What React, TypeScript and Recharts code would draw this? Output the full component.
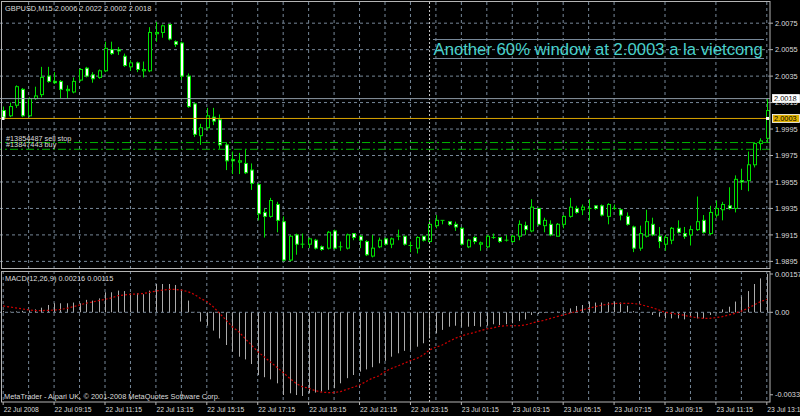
import React from "react";
import { ComposedChart, Bar, Line, XAxis, YAxis, ReferenceLine, CartesianGrid } from "recharts";

// ---------- data (GBPUSD M15, 22 Jul 07:15 .. 23 Jul 13:15) ----------
const OPEN = [
  2.0009, 2.0005, 2.0013, 2.0025, 2.0005, 2.0018, 2.0021, 2.0035, 2.0031, 2.0031,
  2.0024, 2.0023, 2.0032, 2.0041, 2.0036, 2.0034, 2.0039, 2.0055, 2.0055, 2.0050,
  2.0042, 2.0045, 2.0039, 2.0039, 2.0067, 2.0068, 2.0074, 2.0061, 2.0060, 2.0035,
  2.0014, 1.9990, 1.9996, 2.0004, 2.0002, 1.9983, 1.9972, 1.9970, 1.9969, 1.9964,
  1.9953, 1.9932, 1.9929, 1.9938, 1.9925, 1.9896, 1.9915, 1.9908, 1.9908, 1.9911,
  1.9906, 1.9905, 1.9918, 1.9906, 1.9905, 1.9916, 1.9914, 1.9910, 1.9899, 1.9906,
  1.9912, 1.9908, 1.9914, 1.9914, 1.9907, 1.9905, 1.9914, 1.9910, 1.9922, 1.9926,
  1.9925, 1.9923, 1.9920, 1.9906, 1.9913, 1.9908, 1.9906, 1.9913, 1.9913, 1.9911,
  1.9910, 1.9914, 1.9922, 1.9918, 1.9935, 1.9922, 1.9923, 1.9914, 1.9923, 1.9929,
  1.9935, 1.9934, 1.9935, 1.9937, 1.9937, 1.9929, 1.9935, 1.9934, 1.9929, 1.9921,
  1.9905, 1.9914, 1.9923, 1.9914, 1.9908, 1.9911, 1.9920, 1.9916, 1.9915, 1.9919,
  1.9926, 1.9916, 1.9930, 1.9934, 1.9937, 1.9935, 1.9956, 1.9956, 1.9968, 1.9984,
  1.9988,
];
const HIGH = [
  2.0012, 2.0015, 2.0028, 2.0026, 2.0019, 2.0027, 2.0042, 2.0042, 2.0038, 2.0032,
  2.0028, 2.0034, 2.0041, 2.0042, 2.0038, 2.0040, 2.0061, 2.0061, 2.0057, 2.0052,
  2.0047, 2.0046, 2.0046, 2.0072, 2.0076, 2.0074, 2.0074, 2.0062, 2.0061, 2.0037,
  2.0015, 1.9999, 2.0011, 2.0011, 2.0006, 1.9985, 1.9978, 1.9977, 1.9980, 1.9969,
  1.9954, 1.9935, 1.9943, 1.9940, 1.9929, 1.9915, 1.9916, 1.9916, 1.9913, 1.9912,
  1.9907, 1.9918, 1.9919, 1.9910, 1.9916, 1.9916, 1.9915, 1.9911, 1.9915, 1.9913,
  1.9913, 1.9913, 1.9919, 1.9914, 1.9910, 1.9914, 1.9914, 1.9926, 1.9930, 1.9926,
  1.9925, 1.9925, 1.9921, 1.9912, 1.9914, 1.9910, 1.9915, 1.9916, 1.9913, 1.9915,
  1.9915, 1.9926, 1.9925, 1.9942, 1.9935, 1.9928, 1.9926, 1.9924, 1.9930, 1.9943,
  1.9937, 1.9938, 1.9942, 1.9937, 1.9938, 1.9939, 1.9938, 1.9935, 1.9932, 1.9922,
  1.9922, 1.9934, 1.9928, 1.9921, 1.9915, 1.9921, 1.9926, 1.9921, 1.9922, 1.9944,
  1.9930, 1.9937, 1.9941, 1.9940, 1.9951, 1.9960, 1.9965, 1.9978, 1.9985, 1.9988,
  2.0018,
];
const LOW = [
  2.0002, 2.0004, 2.0011, 2.0004, 2.0004, 2.0017, 2.0019, 2.0030, 2.0029, 2.0018,
  2.0018, 2.0022, 2.0031, 2.0034, 2.0030, 2.0033, 2.0038, 2.0051, 2.0051, 2.0042,
  2.0039, 2.0038, 2.0034, 2.0038, 2.0061, 2.0064, 2.0062, 2.0057, 2.0032, 2.0011,
  1.9989, 1.9983, 1.9994, 1.9998, 1.9980, 1.9964, 1.9961, 1.9961, 1.9961, 1.9949,
  1.9926, 1.9913, 1.9928, 1.9917, 1.9895, 1.9895, 1.9900, 1.9905, 1.9905, 1.9904,
  1.9903, 1.9904, 1.9904, 1.9903, 1.9904, 1.9911, 1.9905, 1.9899, 1.9898, 1.9905,
  1.9907, 1.9905, 1.9911, 1.9907, 1.9902, 1.9901, 1.9910, 1.9909, 1.9920, 1.9923,
  1.9922, 1.9918, 1.9907, 1.9905, 1.9908, 1.9903, 1.9905, 1.9912, 1.9909, 1.9910,
  1.9909, 1.9911, 1.9915, 1.9917, 1.9922, 1.9917, 1.9914, 1.9914, 1.9920, 1.9928,
  1.9931, 1.9930, 1.9926, 1.9934, 1.9929, 1.9923, 1.9934, 1.9926, 1.9922, 1.9902,
  1.9903, 1.9913, 1.9914, 1.9905, 1.9903, 1.9908, 1.9916, 1.9912, 1.9907, 1.9918,
  1.9916, 1.9915, 1.9928, 1.9926, 1.9934, 1.9932, 1.9949, 1.9948, 1.9966, 1.9979,
  1.9985,
];
const CLOSE = [
  2.0004, 2.0012, 2.0027, 2.0005, 2.0018, 2.0020, 2.0034, 2.0031, 2.0030, 2.0025,
  2.0025, 2.0031, 2.0040, 2.0035, 2.0033, 2.0039, 2.0056, 2.0052, 2.0054, 2.0043,
  2.0045, 2.0040, 2.0040, 2.0068, 2.0068, 2.0073, 2.0063, 2.0059, 2.0035, 2.0012,
  1.9991, 1.9996, 2.0005, 2.0001, 1.9983, 1.9971, 1.9971, 1.9971, 1.9962, 1.9954,
  1.9931, 1.9929, 1.9941, 1.9926, 1.9896, 1.9914, 1.9908, 1.9908, 1.9912, 1.9905,
  1.9904, 1.9917, 1.9905, 1.9906, 1.9915, 1.9913, 1.9911, 1.9900, 1.9905, 1.9911,
  1.9908, 1.9912, 1.9914, 1.9908, 1.9907, 1.9913, 1.9911, 1.9923, 1.9926, 1.9926,
  1.9923, 1.9921, 1.9908, 1.9911, 1.9910, 1.9909, 1.9914, 1.9913, 1.9910, 1.9911,
  1.9914, 1.9923, 1.9919, 1.9936, 1.9923, 1.9926, 1.9915, 1.9923, 1.9929, 1.9936,
  1.9932, 1.9936, 1.9935, 1.9935, 1.9930, 1.9938, 1.9935, 1.9930, 1.9923, 1.9905,
  1.9916, 1.9925, 1.9915, 1.9910, 1.9913, 1.9920, 1.9917, 1.9914, 1.9919, 1.9925,
  1.9917, 1.9932, 1.9935, 1.9938, 1.9935, 1.9957, 1.9955, 1.9968, 1.9984, 1.9986,
  2.0009,
];
// MACD(12,26,9) main (histogram) and signal, in pips (1 pip = 0.0001)
const PIP = 0.0001;
const MACD_MAIN = [
  0.5, 0.3, 0.4, 0.6, 0.8, 1.2, 1.9, 3.0, 3.7, 3.7,
  3.7, 4.0, 3.7, 5.1, 4.8, 5.7, 8.2, 8.2, 8.9, 8.7,
  7.8, 7.8, 7.4, 8.9, 11.6, 11.6, 11.6, 11.2, 9.2, 4.8,
  0.2, -3.8, -5.5, -7.5, -10.7, -13.4, -16.1, -18.2, -19.3, -21.2,
  -25.7, -26.6, -27.5, -29.1, -33.9, -33.2, -33.9, -34.3, -33.2, -32.9,
  -32.5, -31.8, -31.1, -29.1, -27.0, -25.7, -24.3, -23.4, -22.5, -20.9,
  -19.9, -18.2, -16.8, -15.8, -15.4, -14.1, -12.7, -10.7, -8.6, -7.2,
  -5.9, -5.5, -5.9, -5.9, -5.6, -5.9, -5.5, -4.9, -5.2, -4.9,
  -4.5, -3.6, -2.9, -1.1, -0.7, -0.3, 0.1, 0.3, 0.7, 1.6,
  2.6, 3.0, 4.4, 4.0, 4.0, 4.1, 4.4, 4.0, 2.7, 0.5,
  0.1, -0.1, -1.1, -1.8, -2.5, -2.5, -2.5, -2.9, -2.0, -2.5,
  -2.5, -1.1, -0.4, 1.2, 2.3, 4.4, 6.4, 8.7, 11.6, 13.9,
  15.7,
];
const MACD_SIGNAL = [
  2.6, 2.2, 1.8, 1.4, 1.0, 0.7, 0.7, 0.8, 0.9, 1.2,
  1.6, 2.3, 3.0, 3.7, 4.2, 4.8, 5.3, 5.9, 6.8, 7.1,
  7.4, 7.5, 7.7, 8.2, 8.7, 9.1, 9.4, 9.4, 9.1, 8.5,
  7.4, 5.7, 4.4, 2.3, -0.4, -3.1, -5.9, -7.9, -10.7, -13.4,
  -16.1, -18.2, -20.4, -22.5, -24.7, -27.0, -29.1, -30.5, -31.1, -32.1,
  -32.7, -32.9, -32.9, -32.5, -31.6, -30.7, -29.8, -28.4, -27.0, -26.1,
  -24.3, -23.0, -22.0, -20.9, -19.8, -18.9, -17.5, -15.4, -14.3, -13.4,
  -12.0, -10.7, -9.7, -8.9, -8.3, -7.5, -6.8, -6.4, -5.7, -5.5,
  -5.5, -5.5, -5.2, -4.5, -3.8, -3.3, -2.5, -1.8, -1.1, -0.4,
  0.3, 1.0, 1.6, 2.3, 2.9, 3.3, 3.6, 3.7, 3.7, 3.6,
  3.3, 2.6, 1.9, 1.0, 0.0, -0.4, -0.8, -1.2, -1.8, -2.2,
  -2.5, -2.5, -2.2, -1.8, -1.1, -0.4, 0.5, 1.6, 3.0, 4.4,
  5.3,
];
const TIME_TICKS = [
  "22 Jul 2008", "22 Jul 09:15", "22 Jul 11:15", "22 Jul 13:15", "22 Jul 15:15",
  "22 Jul 17:15", "22 Jul 19:15", "22 Jul 21:15", "22 Jul 23:15", "23 Jul 01:15",
  "23 Jul 03:15", "23 Jul 05:15", "23 Jul 07:15", "23 Jul 09:15", "23 Jul 11:15",
  "23 Jul 13:15",
];
const PRICE_TICKS = [2.0075, 2.0055, 2.0035, 2.0015, 1.9995, 1.9975, 1.9955, 1.9935, 1.9915, 1.9895];
const MACD_TICKS = [0.00157, 0, -0.00338];
const BID = 2.0018;
const HLINE = 2.0003;
const SELL_STOP = 1.99848;
const BUY_PRICE = 1.99797;
const DAY_SEPARATOR_BAR = 67;

// ---------- styles ----------
const FONT = "'Liberation Sans', Arial, sans-serif";
const GREEN = "#00e000";
const GRID = "#778899";
const FRAME = "#b4b4b4";
const TEXT = "#dcdcdc";

const rows = OPEN.map((o, i) => ({
  i,
  o,
  h: HIGH[i],
  l: LOW[i],
  c: CLOSE[i],
  range: [LOW[i], HIGH[i]],
  macd: MACD_MAIN[i] * PIP,
  signal: MACD_SIGNAL[i] * PIP,
}));
const GRID_BARS = rows.map((r) => r.i).filter((i) => i % 4 === 0);
const LABEL_BARS = rows.map((r) => r.i).filter((i) => i % 8 === 0);

const Candle = (props: any) => {
  const { x, y, width, height, payload } = props;
  if (x == null || y == null || !payload) return null;
  const { o, h, l, c } = payload;
  const top = Math.min(y, y + height);
  const hh = Math.abs(height);
  const k = h - l > 0 ? hh / (h - l) : 0;
  const py = (v: number) => top + (h - v) * k;
  const cx = Math.round(x + width / 2) + 0.5;
  const yo = py(o);
  const yc = py(c);
  const bt = Math.min(yo, yc);
  const bb = Math.max(yo, yc);
  const bull = c > o;
  return (
    <g>
      <line x1={cx} x2={cx} y1={top} y2={top + hh} stroke={GREEN} strokeWidth={1} />
      {Math.abs(o - c) < 1e-9 ? (
        <line x1={cx - 2} x2={cx + 2} y1={yo} y2={yo} stroke={GREEN} strokeWidth={1} />
      ) : (
        <rect x={cx - 1} y={bt} width={3} height={Math.max(bb - bt, 1)} fill={bull ? "#000000" : "#ffffff"} stroke={GREEN} strokeWidth={1} />
      )}
    </g>
  );
};

const HistBar = (props: any) => {
  const { x, y, width, height } = props;
  if (x == null || y == null) return null;
  const cx = Math.round(x + width / 2) + 0.5;
  const y1 = Math.min(y, y + height);
  const y2 = Math.max(y, y + height);
  return <line x1={cx} x2={cx} y1={y1} y2={y2} stroke="#acacac" strokeWidth={1} />;
};

const PriceTag = (props: any) => {
  const { viewBox, text, bg, markers } = props;
  if (!viewBox) return null;
  const { x, y, width } = viewBox;
  const right = x + width;
  return (
    <g>
      {markers ? (
        <g>
          <rect x={x + 1.5} y={y - 1.5} width={3} height={3} fill="#ffffff" />
          <rect x={right - 4} y={y - 1.5} width={3} height={3} fill="#ffffff" />
        </g>
      ) : null}
      <rect x={right + 2.5} y={y - 4} width={27} height={8} fill={bg} stroke="#ffffff" strokeWidth={0.8} />
      <text x={right + 4} y={y + 2.7} fontSize={7.4} fill="#000000" fontFamily={FONT}>{text}</text>
    </g>
  );
};

const OrderLabel = (props: any) => {
  const { viewBox, text } = props;
  if (!viewBox) return null;
  return (
    <text x={viewBox.x + 6} y={viewBox.y - 2} fontSize={7.3} fill={TEXT} fontFamily={FONT}>{text}</text>
  );
};

const TimeTick = (props: any) => {
  const { x, y, payload } = props;
  const label = TIME_TICKS[Math.round(payload.value / 8)];
  return (
    <g>
      <line x1={x} x2={x} y1={y} y2={y + 3} stroke={FRAME} />
      <text x={x + 0.5} y={y + 9.6} fontSize={6.8} fill={TEXT} fontFamily={FONT}>{label}</text>
    </g>
  );
};

export default function App() {
  return (
    <div style={{ position: "absolute", left: 0, top: 0, width: 800, height: 416, background: "#000000", overflow: "hidden" }}>
      {/* main price window */}
      <div style={{ position: "absolute", left: 0, top: 0 }}>
        <ComposedChart width={800} height={270} data={rows} margin={{ top: 2, right: 0, bottom: 2, left: 0 }}>
          <CartesianGrid stroke={GRID} strokeDasharray="3 3" horizontalValues={PRICE_TICKS} verticalValues={GRID_BARS} />
          <XAxis dataKey="i" type="category" hide />
          <YAxis
            orientation="right"
            width={30}
            type="number"
            domain={[1.989, 2.0091]}
            allowDataOverflow
            ticks={PRICE_TICKS}
            interval={0}
            axisLine={false}
            tickLine={{ stroke: FRAME }}
            tickSize={3}
            tickMargin={2}
            tickFormatter={(v: number) => v.toFixed(4)}
            tick={{ fill: TEXT, fontSize: 7.4, fontFamily: FONT }}
          />
          <ReferenceLine x={DAY_SEPARATOR_BAR} stroke="#c8c8c8" strokeDasharray="2 2" />
          <Bar dataKey="range" shape={Candle} isAnimationActive={false} />
          <ReferenceLine y={SELL_STOP} stroke="#00b400" strokeDasharray="8 3 2 3" label={<OrderLabel text="#13854487 sell stop" />} />
          <ReferenceLine y={BUY_PRICE} stroke="#00b400" strokeDasharray="8 3 2 3" label={<OrderLabel text="#13847443 buy" />} />
          <ReferenceLine y={BID} stroke="#8c98a4" label={<PriceTag text={BID.toFixed(4)} bg="#ffffff" />} />
          <ReferenceLine y={HLINE} stroke="#d8a400" label={<PriceTag text={HLINE.toFixed(4)} bg="#e0b000" markers />} />
        </ComposedChart>
      </div>

      {/* MACD window */}
      <div style={{ position: "absolute", left: 0, top: 270 }}>
        <ComposedChart width={800} height={146} data={rows} margin={{ top: 1, right: 0, bottom: 0, left: 0 }}>
          <CartesianGrid stroke={GRID} strokeDasharray="3 3" horizontal={false} verticalValues={GRID_BARS} />
          <XAxis
            dataKey="i"
            type="category"
            height={14}
            ticks={LABEL_BARS}
            interval={0}
            axisLine={false}
            tickLine={false}
            tickSize={0}
            tickMargin={0}
            tick={<TimeTick />}
          />
          <YAxis
            orientation="right"
            width={30}
            type="number"
            domain={[-0.003676, 0.001693]}
            allowDataOverflow
            ticks={MACD_TICKS}
            interval={0}
            axisLine={false}
            tickLine={{ stroke: FRAME }}
            tickSize={3}
            tickMargin={2}
            tickFormatter={(v: number) => (v === 0 ? "0.00" : v.toFixed(5))}
            tick={{ fill: TEXT, fontSize: 7.4, fontFamily: FONT }}
          />
          <ReferenceLine y={0} stroke={GRID} strokeDasharray="3 3" />
          <ReferenceLine x={DAY_SEPARATOR_BAR} stroke="#c8c8c8" strokeDasharray="2 2" />
          <Bar dataKey="macd" fill="#acacac" shape={HistBar} isAnimationActive={false} />
          <Line dataKey="signal" type="linear" stroke="#d00000" strokeWidth={1.2} strokeDasharray="2 2" dot={false} isAnimationActive={false} />
        </ComposedChart>
      </div>

      {/* frames and window texts */}
      <svg width={800} height={416} style={{ position: "absolute", left: 0, top: 0, pointerEvents: "none" }}>
        <rect x={1.5} y={1.5} width={768.5} height={267} fill="none" stroke={FRAME} />
        <rect x={1.5} y={271.5} width={768.5} height={130.5} fill="none" stroke={FRAME} />
        <text x={5} y={10.5} fontSize={7.4} fill={TEXT} fontFamily={FONT}>GBPUSD,M15  2.0006 2.0022 2.0002 2.0018</text>
        <line x1={433} x2={764} y1={39.5} y2={39.5} stroke={GRID} />
        <line x1={433} x2={764} y1={58.5} y2={58.5} stroke={GRID} />
        <text x={433.5} y={54.5} fontSize={16.7} fill="#48d1cc" fontFamily={FONT}>Another 60% window at 2.0003 a la vietcong</text>
        <text x={5} y={280.5} fontSize={7.4} fill={TEXT} fontFamily={FONT}>MACD(12,26,9) 0.00216 0.00115</text>
        <text x={4} y={399} fontSize={7.4} fill={TEXT} fontFamily={FONT}>MetaTrader - Alpari UK, © 2001-2008 MetaQuotes Software Corp.</text>
      </svg>
    </div>
  );
}
